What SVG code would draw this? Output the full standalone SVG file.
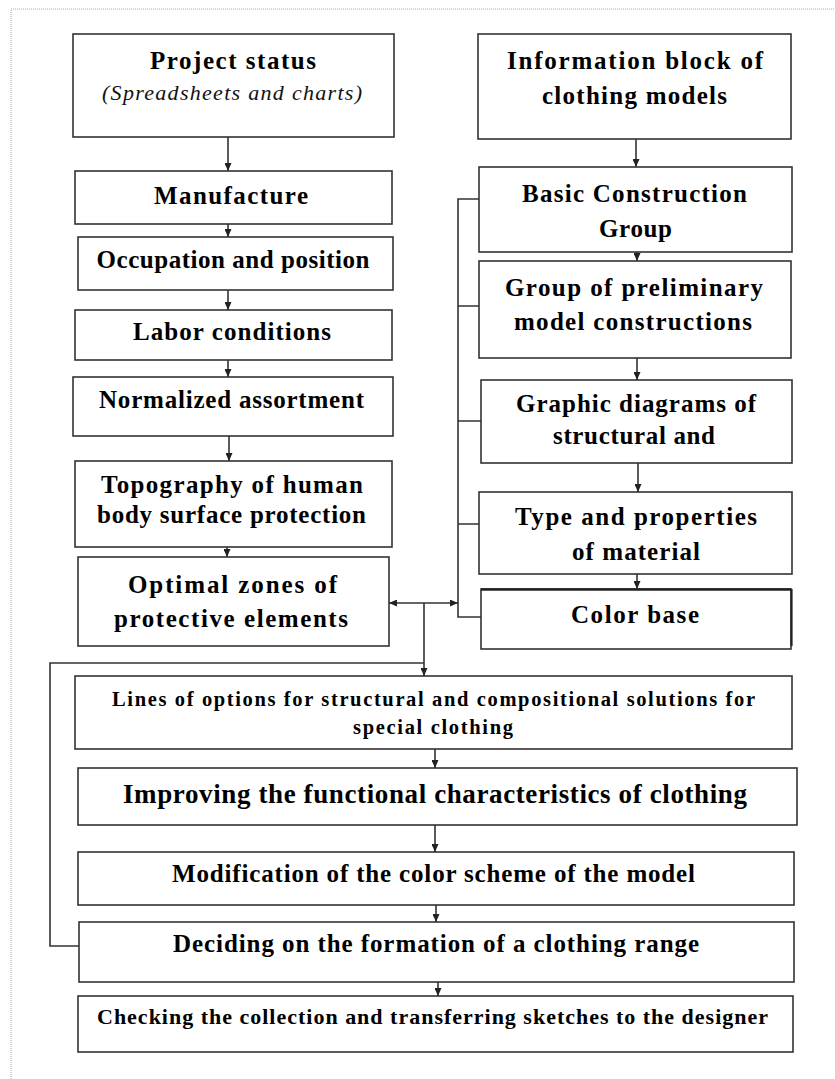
<svg xmlns="http://www.w3.org/2000/svg" width="835" height="1079" viewBox="0 0 835 1079">
<defs>
<marker id="ah" markerWidth="8" markerHeight="7" refX="8" refY="3.5" orient="auto-start-reverse" markerUnits="userSpaceOnUse">
<path d="M0,0 L8,3.5 L0,7 z" fill="#222"/>
</marker>
<style>
.box{fill:#fff;stroke:#333;stroke-width:1.6}
.t{font-family:"Liberation Serif","Times New Roman",serif;font-weight:bold;fill:#000;text-anchor:middle;font-size:25px}
.i{font-family:"Liberation Serif","Times New Roman",serif;font-style:italic;fill:#111;text-anchor:middle}
.c{fill:none;stroke:#333;stroke-width:1.6}
.a{fill:none;stroke:#333;stroke-width:1.6;marker-end:url(#ah)}
.pg{fill:none;stroke:#aaa;stroke-width:1;stroke-dasharray:1 1}
</style>
</defs>
<rect width="835" height="1079" fill="#fff"/>
<path class="pg" d="M11,1079 V9 H835"/>

<g id="n-project-status">
<rect class="box" x="73" y="34" width="321" height="103"/>
<text class="t" x="233" y="69" textLength="166" lengthAdjust="spacing">Project status</text>
<text class="i" x="232" y="100" font-size="22" textLength="260" lengthAdjust="spacing">(Spreadsheets and charts)</text>
</g>
<g id="n-manufacture">
<rect class="box" x="75" y="171" width="317" height="53"/>
<text class="t" x="231" y="204" textLength="154" lengthAdjust="spacing">Manufacture</text>
</g>
<g id="n-occupation">
<rect class="box" x="78" y="237" width="315" height="53"/>
<text class="t" x="233" y="268" textLength="273" lengthAdjust="spacing">Occupation and position</text>
</g>
<g id="n-labor">
<rect class="box" x="75" y="310" width="317" height="50"/>
<text class="t" x="232" y="340" textLength="198" lengthAdjust="spacing">Labor conditions</text>
</g>
<g id="n-normalized">
<rect class="box" x="73" y="377" width="320" height="59"/>
<text class="t" x="231.5" y="408" textLength="265" lengthAdjust="spacing">Normalized assortment</text>
</g>
<g id="n-topography">
<rect class="box" x="75" y="461" width="317" height="86"/>
<text class="t" x="232" y="493" textLength="262" lengthAdjust="spacing">Topography of human</text>
<text class="t" x="231.5" y="523" textLength="269" lengthAdjust="spacing">body surface protection</text>
</g>
<g id="n-optimal">
<rect class="box" x="78" y="557" width="311" height="89"/>
<text class="t" x="232.5" y="593" textLength="209" lengthAdjust="spacing">Optimal  zones of</text>
<text class="t" x="231" y="627" textLength="234" lengthAdjust="spacing">protective  elements</text>
</g>

<g id="n-information">
<rect class="box" x="478" y="34" width="313" height="105"/>
<text class="t" x="635" y="69" textLength="256" lengthAdjust="spacing">Information  block  of</text>
<text class="t" x="634.5" y="104" textLength="185" lengthAdjust="spacing">clothing  models</text>
</g>
<g id="n-basic">
<rect class="box" x="479" y="167" width="313" height="85"/>
<text class="t" x="634.5" y="202" textLength="225" lengthAdjust="spacing">Basic  Construction</text>
<text class="t" x="635.5" y="237" textLength="73" lengthAdjust="spacing">Group</text>
</g>
<g id="n-preliminary">
<rect class="box" x="479" y="261" width="312" height="97"/>
<text class="t" x="634" y="296" textLength="258" lengthAdjust="spacing">Group  of preliminary</text>
<text class="t" x="633" y="330" textLength="238" lengthAdjust="spacing">model  constructions</text>
</g>
<g id="n-graphic">
<rect class="box" x="481" y="380" width="311" height="83"/>
<text class="t" x="636" y="412" textLength="240" lengthAdjust="spacing">Graphic diagrams of</text>
<text class="t" x="634" y="444" textLength="162" lengthAdjust="spacing">structural and</text>
</g>
<g id="n-type">
<rect class="box" x="479" y="492" width="313" height="82"/>
<text class="t" x="636" y="525" textLength="242" lengthAdjust="spacing">Type  and  properties</text>
<text class="t" x="636" y="560" textLength="128" lengthAdjust="spacing">of material</text>
</g>
<g id="n-color-base">
<rect class="box" x="481" y="589" width="310" height="60"/>
<line x1="481" y1="589.5" x2="791" y2="589.5" stroke="#222" stroke-width="2.4"/>
<line x1="791.5" y1="589" x2="791.5" y2="646" stroke="#222" stroke-width="2.2"/>
<text class="t" x="635" y="623" textLength="128" lengthAdjust="spacing">Color  base</text>
</g>

<g id="n-lines">
<rect class="box" x="75" y="676" width="717" height="73"/>
<text class="t" x="433.5" y="706" style="font-size:20.5px" textLength="643" lengthAdjust="spacing">Lines of options for structural and compositional solutions for</text>
<text class="t" x="433" y="734" style="font-size:20.5px" textLength="160" lengthAdjust="spacing">special clothing</text>
</g>
<g id="n-improving">
<rect class="box" x="78" y="768" width="719" height="57"/>
<text class="t" x="435" y="803" style="font-size:27px" textLength="624" lengthAdjust="spacing">Improving  the  functional  characteristics  of clothing</text>
</g>
<g id="n-modification">
<rect class="box" x="78" y="852" width="716" height="53"/>
<text class="t" x="433.5" y="882" textLength="523" lengthAdjust="spacing">Modification of the color scheme of the model</text>
</g>
<g id="n-deciding">
<rect class="box" x="79" y="922" width="715" height="60"/>
<text class="t" x="436" y="952" textLength="526" lengthAdjust="spacing">Deciding on the formation of a clothing range</text>
</g>
<g id="n-checking">
<rect class="box" x="78" y="996" width="715" height="56"/>
<text class="t" x="432.5" y="1024" style="font-size:22px" textLength="671" lengthAdjust="spacing">Checking the collection and transferring sketches to the designer</text>
</g>

<g id="connectors">
<path class="a" d="M228,137 V171"/>
<path class="a" d="M228,224 V237"/>
<path class="a" d="M228,290 V310"/>
<path class="a" d="M228,360 V377"/>
<path class="a" d="M229,436 V461"/>
<path class="a" d="M227,547 V557"/>
<path class="a" d="M636,139 V167"/>
<path class="a" d="M637,252 V261"/>
<path class="a" d="M637,358 V380"/>
<path class="a" d="M638,463 V492"/>
<path class="a" d="M637,574 V589"/>
<path class="c" d="M479,199 H458 V617 H481"/>
<path class="c" d="M458,306 H479 M458,421 H481 M458,524 H479"/>
<path class="a" d="M424,603 H389"/>
<path class="a" d="M424,603 H458"/>
<path class="a" d="M424,603 V676"/>
<path class="c" d="M79,946 H50 V663 H424"/>
<path class="a" d="M435,749 V768"/>
<path class="a" d="M435,825 V852"/>
<path class="a" d="M436,905 V922"/>
<path class="a" d="M438,982 V996"/>
</g>
</svg>
